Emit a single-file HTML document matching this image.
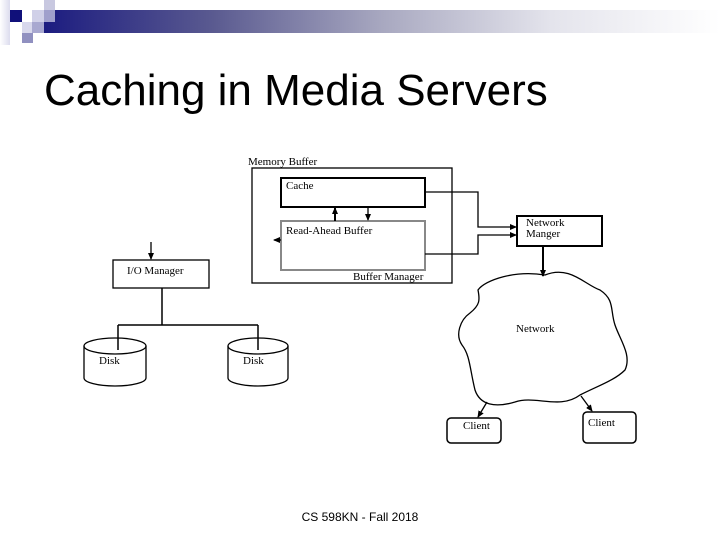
<!DOCTYPE html>
<html><head><style>
body{margin:0;width:720px;height:540px;background:#fff;overflow:hidden;position:relative;font-family:"Liberation Sans",sans-serif}
.a{position:absolute}
</style></head><body>
<div class="a" style="left:0;top:0;width:10px;height:45px;background:linear-gradient(to right,#fff,#dcdcee)"></div>
<div class="a" style="left:44px;top:10px;width:676px;height:23px;background:linear-gradient(to right,#1c1c80 0%,#5a5a90 25%,#a8a8c0 50%,#e4e4ec 75%,#fff 100%)"></div>
<div class="a" style="left:10px;top:10px;width:12px;height:12px;background:#10107a"></div>
<div class="a" style="left:32px;top:10px;width:12px;height:12px;background:#d0d0e8"></div>
<div class="a" style="left:44px;top:0;width:11px;height:10px;background:#c8c8e0"></div>
<div class="a" style="left:44px;top:10px;width:11px;height:12px;background:#a0a0cc"></div>
<div class="a" style="left:22px;top:22px;width:10px;height:11px;background:#d8d8ec"></div>
<div class="a" style="left:32px;top:22px;width:12px;height:11px;background:#a8a8d0"></div>
<div class="a" style="left:22px;top:33px;width:11px;height:10px;background:#9090c0"></div>
<div class="a" style="left:44px;top:66px;font-size:44px;color:#000;white-space:nowrap">Caching in Media Servers</div>
<div class="a" style="left:0;width:720px;top:510px;text-align:center;font-size:12px">CS 598KN - Fall 2018</div>
<svg class="a" style="left:0;top:0" width="720" height="540" font-family="Liberation Serif,serif" font-size="11">
<defs><marker id="m" markerUnits="userSpaceOnUse" markerWidth="7" markerHeight="6" refX="6" refY="3" orient="auto"><path d="M0,0L7,3L0,6z"/></marker></defs>
<g fill="none" stroke="#000" stroke-width="1.3">
<rect x="252" y="168" width="200" height="115"/>
<rect x="281" y="178" width="144" height="29" stroke-width="2"/>
<rect x="281" y="221" width="144" height="49" stroke="#888" stroke-width="2"/>
<rect x="517" y="216" width="85" height="30" stroke-width="2"/>
<rect x="113" y="260" width="96" height="28"/>
<path d="M425,192H478V227H516" marker-end="url(#m)"/>
<path d="M425,254H478V235H516" marker-end="url(#m)"/>
<path d="M335,221V208" marker-end="url(#m)" stroke-width="2"/>
<path d="M368,207V220" marker-end="url(#m)"/>
<path d="M281,240H274" marker-end="url(#m)"/>
<path d="M543,246V276" marker-end="url(#m)" stroke-width="2"/>
<path d="M151,242V259" marker-end="url(#m)"/>
<path d="M162,288V325M118,325H258M118,325V350M258,325V350" stroke-width="1.5"/>
<path d="M84,346a31,8 0 0 1 62,0v32a31,8 0 0 1 -62,0z"/>
<path d="M84,346a31,8 0 0 0 62,0"/>
<path d="M228,346a30,8 0 0 1 60,0v32a30,8 0 0 1 -60,0z"/>
<path d="M228,346a30,8 0 0 0 60,0"/>
<path d="M545,275C570,265 585,285 600,290C615,300 610,310 615,325C620,340 632,355 625,370C615,380 600,385 580,395C560,410 535,395 515,402C495,408 480,405 475,390C470,370 470,355 462,345C455,335 460,320 470,313C480,305 480,300 478,290C485,280 515,270 545,275z"/>
<path d="M487,402L478,417" marker-end="url(#m)"/>
<path d="M581,396L592,411" marker-end="url(#m)"/>
</g>
<g fill="none" stroke="#000" stroke-width="1.5">
<rect x="447" y="418" width="54" height="25" rx="4" fill="#fff"/>
<rect x="583" y="412" width="53" height="31" rx="4" fill="#fff"/>
</g>
<text x="248" y="165">Memory Buffer</text>
<text x="286" y="189">Cache</text>
<text x="286" y="234">Read-Ahead Buffer</text>
<text x="353" y="280">Buffer Manager</text>
<text x="526" y="226">Network</text>
<text x="526" y="237">Manger</text>
<text x="127" y="274">I/O Manager</text>
<text x="99" y="364">Disk</text>
<text x="243" y="364">Disk</text>
<text x="516" y="332">Network</text>
<text x="463" y="429">Client</text>
<text x="588" y="426">Client</text>
</svg>
</body></html>
